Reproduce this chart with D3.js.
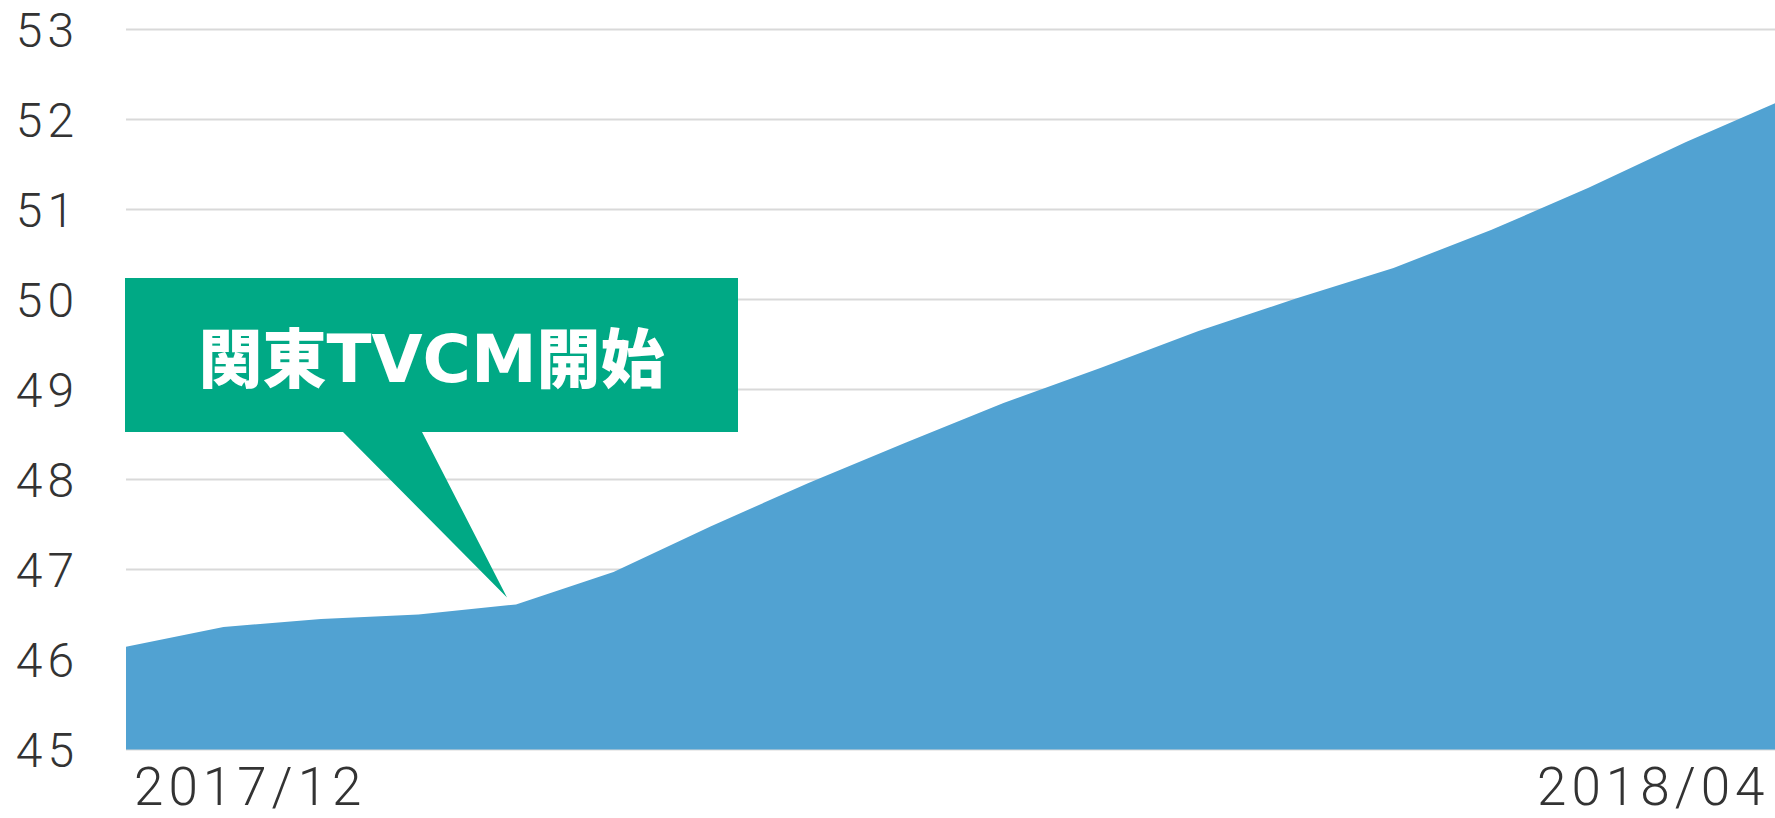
<!DOCTYPE html>
<html>
<head>
<meta charset="utf-8">
<script src="https://cdn.jsdelivr.net/npm/d3@7"></script>
<style>
  body { margin: 0; background: #fff; overflow: hidden; }
</style>
</head>
<body>
<div id="chart"></div>
<script>
// weekly points, first = 2017/12, last = 2018/04
const weeks = ["w01", "w02", "w03", "w04", "w05", "w06", "w07", "w08", "w09",
               "w10", "w11", "w12", "w13", "w14", "w15", "w16", "w17", "w18"];
const values = [46.14, 46.36, 46.45, 46.50, 46.61, 46.97, 47.48, 47.96, 48.41,
                48.85, 49.24, 49.65, 50.01, 50.35, 50.77, 51.24, 51.75, 52.22];
const yTicks = [45, 46, 47, 48, 49, 50, 51, 52, 53];
const xTickLabels = [{ week: "w01", label: "2017/12" }, { week: "w18", label: "2018/04" }];
const calloutParts = [["関東", "cjk"], ["TVCM", "latin"], ["開始", "cjk"]];
const calloutWeek = "w05";

const width = 1775, height = 818;
const margin = { top: 29.4, right: -8.5, bottom: 68.6, left: 126 };

const svg = d3.select("#chart")
    .append("svg")
    .attr("width", width)
    .attr("height", height);

const x = d3.scalePoint()
    .domain(weeks)
    .range([margin.left, width - margin.right]);

const y = d3.scaleLinear()
    .domain([45, 53])
    .range([height - margin.bottom, margin.top]);

// grid lines
svg.append("g")
    .selectAll("line")
    .data(yTicks)
    .enter()
    .append("line")
    .attr("x1", margin.left)
    .attr("x2", width)
    .attr("y1", d => y(d))
    .attr("y2", d => y(d))
    .attr("stroke", "#d9d9d9")
    .attr("stroke-width", 2);

// y labels
svg.append("g")
    .selectAll("text")
    .data(yTicks)
    .enter()
    .append("text")
    .attr("x", 79)
    .attr("y", d => y(d))
    .attr("dy", "0.36em")
    .attr("text-anchor", "end")
    .style("font-family", "Roboto, sans-serif")
    .style("font-weight", 300)
    .style("font-size", "48px")
    .style("letter-spacing", "5px")
    .attr("fill", "#333")
    .text(d => d);

// area
const area = d3.area()
    .x((d, i) => x(weeks[i]))
    .y0(y(45))
    .y1(d => y(d));

svg.append("path")
    .datum(values)
    .attr("d", area)
    .attr("fill", "#51a2d2");

// x labels
svg.append("g")
    .selectAll("text")
    .data(xTickLabels)
    .enter()
    .append("text")
    .attr("x", (d, i) => i === 0 ? x(d.week) + 8 : x(d.week) - 14)
    .attr("y", 805)
    .attr("text-anchor", (d, i) => i === 0 ? "start" : "end")
    .style("font-family", "Roboto, sans-serif")
    .style("font-weight", 300)
    .style("font-size", "53px")
    .style("letter-spacing", "5px")
    .attr("fill", "#333")
    .text(d => d.label);

// callout bubble
const box = { x0: 125, x1: 738, y0: 278, y1: 432 };
const tipX = x(calloutWeek) - 9, tipY = y(values[weeks.indexOf(calloutWeek)]) - 7;

svg.append("path")
    .attr("d", "M" + box.x0 + "," + box.y0 +
        "H" + box.x1 + "V" + box.y1 +
        "H422L" + tipX + "," + tipY +
        "L343," + box.y1 + "H" + box.x0 + "Z")
    .attr("fill", "#00a985");

svg.append("text")
    .attr("x", (box.x0 + box.x1) / 2)
    .attr("y", 382)
    .attr("text-anchor", "middle")
    .attr("fill", "#fff")
    .selectAll("tspan")
    .data(calloutParts)
    .enter()
    .append("tspan")
    .style("font-family", d => d[1] === "cjk" ? "'Noto Sans CJK JP', sans-serif" : "'DejaVu Sans', sans-serif")
    .style("font-weight", d => d[1] === "cjk" ? 900 : 700)
    .style("font-size", d => d[1] === "cjk" ? "64px" : "66px")
    .text(d => d[0]);
</script>
</body>
</html>
